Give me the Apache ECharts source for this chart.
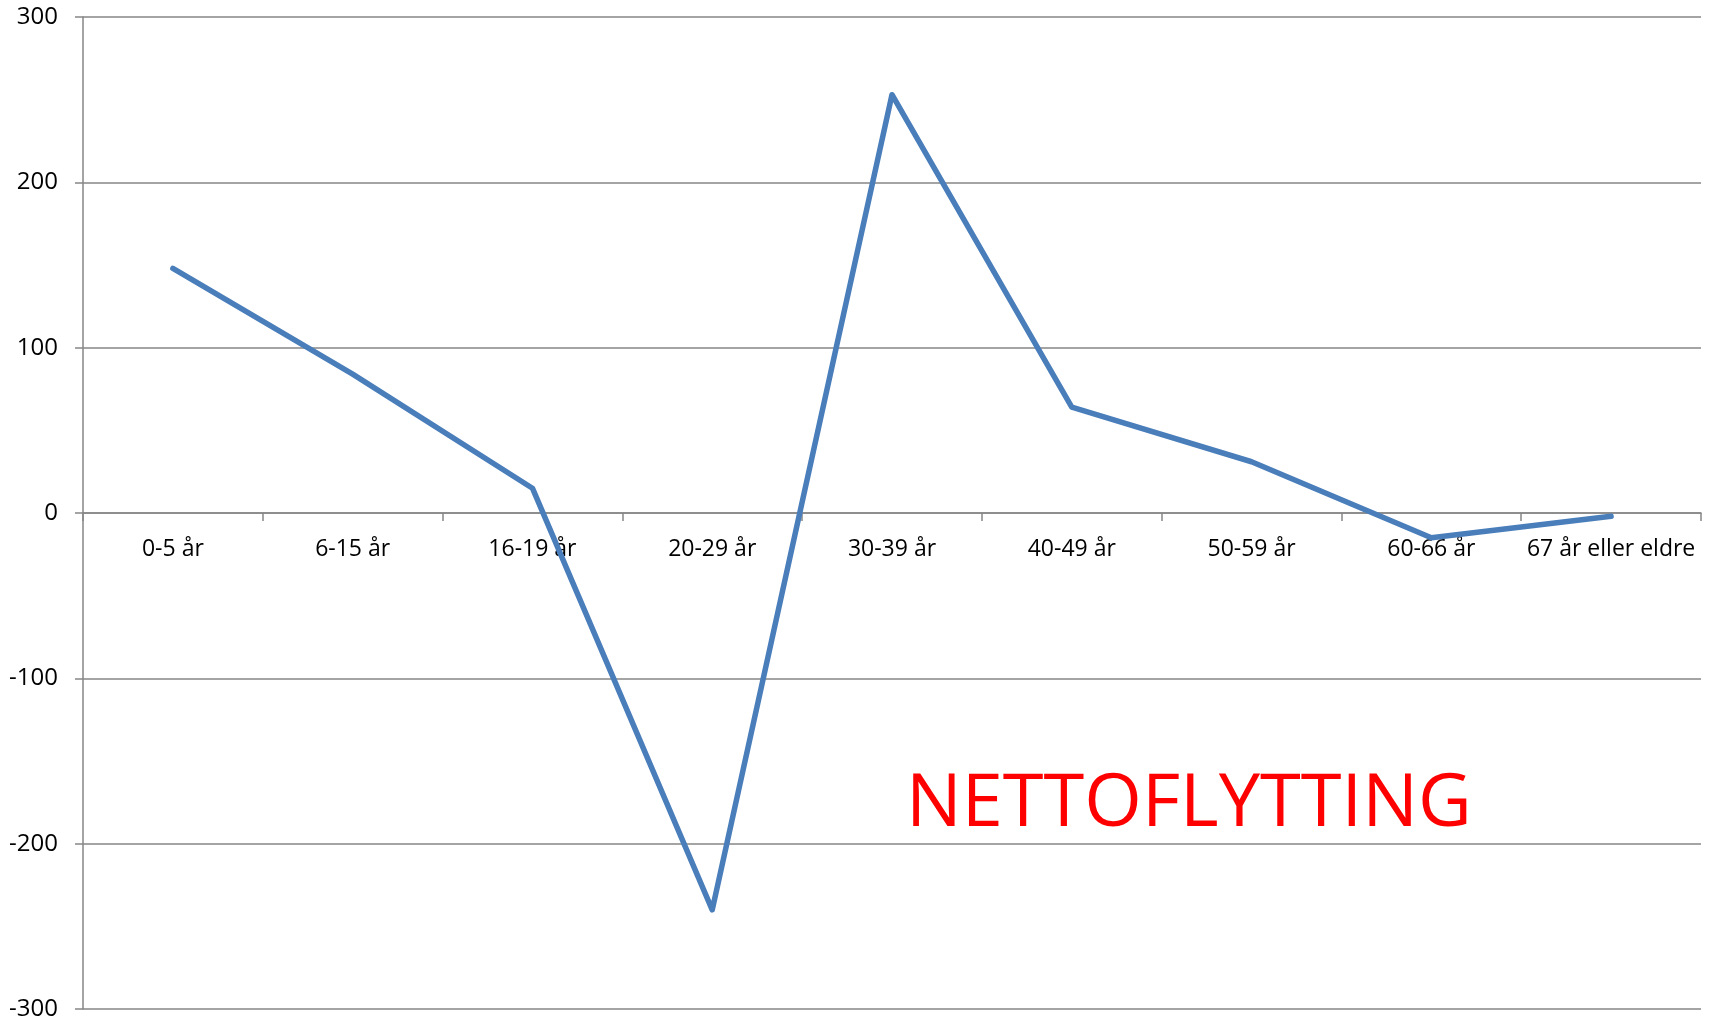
<!DOCTYPE html>
<html>
<head>
<meta charset="utf-8">
<script src="https://cdn.jsdelivr.net/npm/echarts@6/dist/echarts.min.js"></script>
<style>
  html, body { margin: 0; padding: 0; background: #fff; }
  #chart { width: 1714px; height: 1024px; }
</style>
</head>
<body>
<div id="chart"></div>
<script>
// aldersgrupper og nettoflytting
const categories = ['0-5 år', '6-15 år', '16-19 år', '20-29 år', '30-39 år', '40-49 år', '50-59 år', '60-66 år', '67 år eller eldre'];
const nettoflytting = [148, 84, 15, -240, 253, 64, 31, -15, -2];
const yTicks = { min: -300, max: 300, interval: 100 };
const titleText = 'NETTOFLYTTING';

const font = '"Open Sans", "Noto Sans", sans-serif';
const axisGray = '#868686';

let myChart = echarts.init(document.getElementById('chart'));

let option = {
  animation: false,
  grid: {
    left: 83,
    right: 13,
    top: 17,
    bottom: 15,
    containLabel: false,
    outerBoundsMode: 'none'
  },
  xAxis: {
    type: 'category',
    data: categories,
    boundaryGap: true,
    // aksen ligger på 0, halvveis opp i plottet
    offset: -496,
    axisLine: {
      onZero: false,
      lineStyle: { color: axisGray, width: 1.5 }
    },
    axisTick: {
      show: true,
      inside: false,
      length: 8,
      alignWithLabel: false,
      lineStyle: { color: axisGray, width: 1.5 }
    },
    axisLabel: {
      color: '#000',
      fontFamily: font,
      fontSize: 23,
      margin: 25,
      interval: 0
    },
    splitLine: { show: false }
  },
  yAxis: {
    type: 'value',
    min: yTicks.min,
    max: yTicks.max,
    interval: yTicks.interval,
    axisLine: {
      show: true,
      lineStyle: { color: axisGray, width: 1.5 }
    },
    axisTick: {
      show: true,
      length: 8,
      lineStyle: { color: axisGray, width: 1.5 }
    },
    axisLabel: {
      color: '#000',
      fontFamily: font,
      fontSize: 24,
      margin: 25
    },
    splitLine: {
      show: true,
      lineStyle: { color: axisGray, width: 1.5 }
    }
  },
  graphic: [{
    type: 'text',
    left: 906,
    top: 768,
    style: {
      text: titleText,
      fill: '#ff0000',
      font: '74px ' + font
    }
  }],
  series: [{
    type: 'line',
    data: nettoflytting,
    symbol: 'none',
    lineStyle: { color: '#4a7ebb', width: 5.5, cap: 'round', join: 'round' },
    z: 5
  }]
};

myChart.setOption(option);
</script>
</body>
</html>
